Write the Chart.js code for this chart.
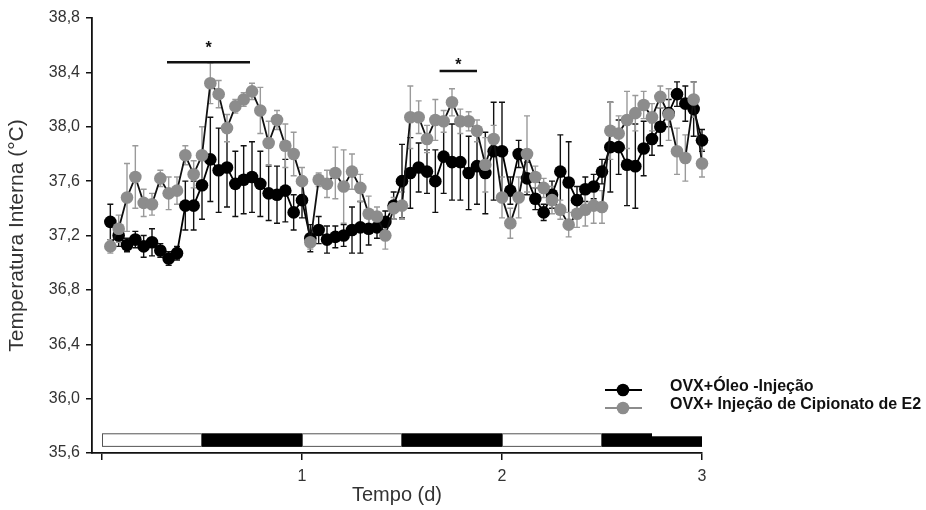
<!DOCTYPE html>
<html>
<head>
<meta charset="utf-8">
<script src="https://cdn.jsdelivr.net/npm/chart.js@4"></script>
<style>
  html, body { margin: 0; padding: 0; background: #fff; }
  #temp { display: block; }
</style>
</head>
<body>
<canvas id="temp" width="926" height="510"></canvas>
<script>
// hourly means over 3 days (hours 1..72)
const oleo = [
  37.30, 37.20, 37.13, 37.17, 37.12, 37.15, 37.09, 37.03, 37.07, 37.42, 37.42, 37.57,
  37.76, 37.68, 37.70, 37.58, 37.61, 37.63, 37.58, 37.51, 37.50, 37.53, 37.37, 37.46,
  37.18, 37.24, 37.17, 37.19, 37.20, 37.24, 37.26, 37.25, 37.26, 37.30, 37.42, 37.60,
  37.66, 37.70, 37.67, 37.60, 37.78, 37.74, 37.74, 37.66, 37.71, 37.66, 37.82, 37.82,
  37.53, 37.80, 37.62, 37.47, 37.37, 37.50, 37.67, 37.59, 37.46, 37.54, 37.56, 37.67,
  37.85, 37.85, 37.72, 37.71, 37.84, 37.91, 38.00, 38.10, 38.24, 38.17, 38.13, 37.90
];
const oleoErr = [
  0.13, 0.08, 0.05, 0.06, 0.08, 0.10, 0.05, 0.05, 0.05, 0.18, 0.18, 0.25,
  0.31, 0.31, 0.29, 0.24, 0.25, 0.26, 0.24, 0.20, 0.21, 0.23, 0.13, 0.13,
  0.10, 0.10, 0.10, 0.08, 0.08, 0.17, 0.19, 0.12, 0.08, 0.08, 0.10, 0.27,
  0.26, 0.18, 0.16, 0.23, 0.27, 0.28, 0.28, 0.27, 0.28, 0.30, 0.36, 0.36,
  0.10, 0.10, 0.12, 0.08, 0.06, 0.10, 0.27, 0.30, 0.10, 0.09, 0.09, 0.09,
  0.33, 0.20, 0.30, 0.31, 0.20, 0.12, 0.14, 0.10, 0.09, 0.13, 0.20, 0.08
];
const e2 = [
  37.12, 37.25, 37.48, 37.63, 37.44, 37.43, 37.62, 37.51, 37.53, 37.79, 37.65, 37.79,
  38.32, 38.24, 37.99, 38.15, 38.20, 38.26, 38.12, 37.88, 38.05, 37.86, 37.80, 37.60,
  37.15, 37.61, 37.58, 37.66, 37.56, 37.67, 37.55, 37.36, 37.34, 37.20, 37.40, 37.42,
  38.07, 38.07, 37.91, 38.05, 38.04, 38.18, 38.04, 38.04, 37.97, 37.72, 37.91, 37.48,
  37.29, 37.48, 37.80, 37.63, 37.55, 37.46, 37.39, 37.28, 37.36, 37.39, 37.42, 37.41,
  37.97, 37.95, 38.05, 38.10, 38.16, 38.07, 38.22, 38.09, 37.82, 37.77, 38.20, 37.73
];
const e2Err = [
  0.05, 0.10, 0.25, 0.23, 0.10, 0.08, 0.06, 0.12, 0.10, 0.07, 0.10, 0.21,
  0.15, 0.10, 0.10, 0.05, 0.05, 0.06, 0.17, 0.16, 0.07, 0.16, 0.16, 0.10,
  0.05, 0.05, 0.10, 0.19, 0.27, 0.13, 0.10, 0.13, 0.07, 0.10, 0.08, 0.10,
  0.23, 0.12, 0.10, 0.15, 0.08, 0.10, 0.09, 0.07, 0.08, 0.20, 0.10, 0.15,
  0.11, 0.15, 0.28, 0.08, 0.07, 0.10, 0.07, 0.09, 0.10, 0.12, 0.13, 0.12,
  0.21, 0.13, 0.21, 0.13, 0.10, 0.10, 0.08, 0.19, 0.17, 0.17, 0.13, 0.10
];
const horas = oleo.map((_, i) => i + 1);
const dias = horas.map(h => h / 24);

const yTicks = [35.6, 36.0, 36.4, 36.8, 37.2, 37.6, 38.0, 38.4, 38.8];
const xTicks = [0, 1, 2, 3];

// light (L) / dark (D) phases, in days
const fotoperiodo = [
  [0, 0.5, 'L'], [0.5, 1, 'D'], [1, 1.5, 'L'], [1.5, 2, 'D'], [2, 2.5, 'L'], [2.5, 2.75, 'D'], [2.75, 3, 'D2']
];
// significance bars: x from/to (d), bar level and star level (°C)
const sigBars = [
  { x0: 0.325, x1: 0.74, y: 38.475, star: 38.6 },
  { x0: 1.688, x1: 1.875, y: 38.41, star: 38.475 }
];

const legendItems = [
  { label: 'OVX+Óleo -Injeção', color: '#000000', line: '#000000' },
  { label: 'OVX+ Injeção de Cipionato de E2', color: '#8c8c8c', line: '#8c8c8c' }
];

const FONT = '"Liberation Sans", Arial, sans-serif';

const extras = {
  id: 'extras',
  beforeDatasetsDraw(chart) {
    const { ctx, scales: { x, y } } = chart;
    ctx.save();
    // photoperiod strip
    const top = y.getPixelForValue(35.745);
    const bot = y.getPixelForValue(35.645);
    fotoperiodo.forEach(([a, b, t]) => {
      const xa = x.getPixelForValue(a), xb = x.getPixelForValue(b);
      if (t === 'L') {
        ctx.fillStyle = '#fff';
        ctx.fillRect(xa, top, xb - xa, bot - top);
        ctx.strokeStyle = '#555';
        ctx.lineWidth = 1;
        ctx.strokeRect(xa + 0.5, top + 0.5, xb - xa - 1, bot - top - 1);
      } else {
        const t2 = t === 'D2' ? top + 3 : top;
        ctx.fillStyle = '#000';
        ctx.fillRect(xa, t2, xb - xa, bot - t2);
      }
    });

    // error bars
    const drawErr = (vals, errs, color) => {
      ctx.strokeStyle = color;
      ctx.lineWidth = 1.4;
      vals.forEach((v, i) => {
        const px = x.getPixelForValue(dias[i]);
        const y1 = y.getPixelForValue(v + errs[i]);
        const y2 = y.getPixelForValue(v - errs[i]);
        ctx.beginPath();
        ctx.moveTo(px, y1); ctx.lineTo(px, y2);
        ctx.moveTo(px - 3, y1); ctx.lineTo(px + 3, y1);
        ctx.moveTo(px - 3, y2); ctx.lineTo(px + 3, y2);
        ctx.stroke();
      });
    };
    drawErr(oleo, oleoErr, '#111');
    drawErr(e2, e2Err, '#9a9a9a');
    ctx.restore();
  },
  afterDraw(chart) {
    const { ctx, scales: { x, y } } = chart;
    ctx.save();
    // significance bars
    sigBars.forEach(s => {
      const xa = x.getPixelForValue(s.x0), xb = x.getPixelForValue(s.x1);
      const py = y.getPixelForValue(s.y);
      ctx.strokeStyle = '#111';
      ctx.lineWidth = 2.5;
      ctx.beginPath();
      ctx.moveTo(xa, py); ctx.lineTo(xb, py);
      ctx.stroke();
      ctx.fillStyle = '#111';
      ctx.font = 'bold 16px ' + FONT;
      ctx.textAlign = 'center';
      ctx.textBaseline = 'middle';
      ctx.fillText('*', (xa + xb) / 2, y.getPixelForValue(s.star) + 3);
    });

    // legend
    legendItems.forEach((it, k) => {
      const ly = 390 + k * 18;
      ctx.strokeStyle = it.line;
      ctx.lineWidth = 2;
      ctx.beginPath();
      ctx.moveTo(605, ly); ctx.lineTo(642, ly);
      ctx.stroke();
      ctx.fillStyle = it.color;
      ctx.beginPath();
      ctx.arc(623, ly, 6.3, 0, Math.PI * 2);
      ctx.fill();
      ctx.fillStyle = '#111';
      ctx.font = 'bold 16px ' + FONT;
      ctx.textAlign = 'left';
      ctx.textBaseline = 'middle';
      ctx.fillText(it.label, 670, ly - 3);
    });
    ctx.restore();
  }
};

new Chart(document.getElementById('temp'), {
  type: 'line',
  data: {
    datasets: [
      {
        label: legendItems[0].label,
        data: dias.map((d, i) => ({ x: d, y: oleo[i] })),
        borderColor: '#000',
        borderWidth: 1.8,
        backgroundColor: '#000',
        pointBackgroundColor: '#000',
        pointBorderWidth: 0,
        pointRadius: 6.3,
        tension: 0,
        clip: false,
        order: 1
      },
      {
        label: legendItems[1].label,
        data: dias.map((d, i) => ({ x: d, y: e2[i] })),
        borderColor: '#111',
        borderWidth: 1.8,
        backgroundColor: '#8c8c8c',
        pointBackgroundColor: '#8c8c8c',
        pointBorderWidth: 0,
        pointRadius: 6.3,
        tension: 0,
        clip: false,
        order: 0
      }
    ]
  },
  options: {
    responsive: false,
    devicePixelRatio: 1,
    animation: false,
    layout: { padding: { top: 18, right: 224, left: 0, bottom: 0 } },
    plugins: { legend: { display: false }, tooltip: { enabled: false } },
    scales: {
      x: {
        type: 'linear',
        min: -0.05,
        max: 3,
        afterFit: s => { s.height = 57; },
        afterBuildTicks: s => { s.ticks = xTicks.map(v => ({ value: v })); },
        ticks: {
          padding: 7,
          color: '#333',
          font: { family: FONT, size: 16 },
          callback: v => (v === 0 ? '' : String(v))
        },
        grid: { drawOnChartArea: false, drawTicks: true, tickLength: 7, color: '#111', lineWidth: 1.5 },
        border: { display: true, color: '#111', width: 1.8 },
        title: {
          display: true,
          text: 'Tempo (d)',
          color: '#333',
          font: { family: FONT, size: 20 },
          padding: { top: 0, bottom: 3 }
        }
      },
      y: {
        min: 35.6,
        max: 38.8,
        afterFit: s => { s.width = 92; },
        afterBuildTicks: s => { s.ticks = yTicks.map(v => ({ value: v })); },
        ticks: {
          padding: 6,
          color: '#333',
          font: { family: FONT, size: 16 },
          callback: v => Number(v).toFixed(1).replace('.', ',')
        },
        grid: { drawOnChartArea: false, drawTicks: true, tickLength: 6, color: '#111', lineWidth: 1.5 },
        border: { display: true, color: '#111', width: 1.8 },
        title: {
          display: true,
          text: 'Temperatura Interna (°C)',
          color: '#333',
          font: { family: FONT, size: 21 },
          padding: { top: 5, bottom: 0 }
        }
      }
    }
  },
  plugins: [extras]
});
</script>
</body>
</html>
